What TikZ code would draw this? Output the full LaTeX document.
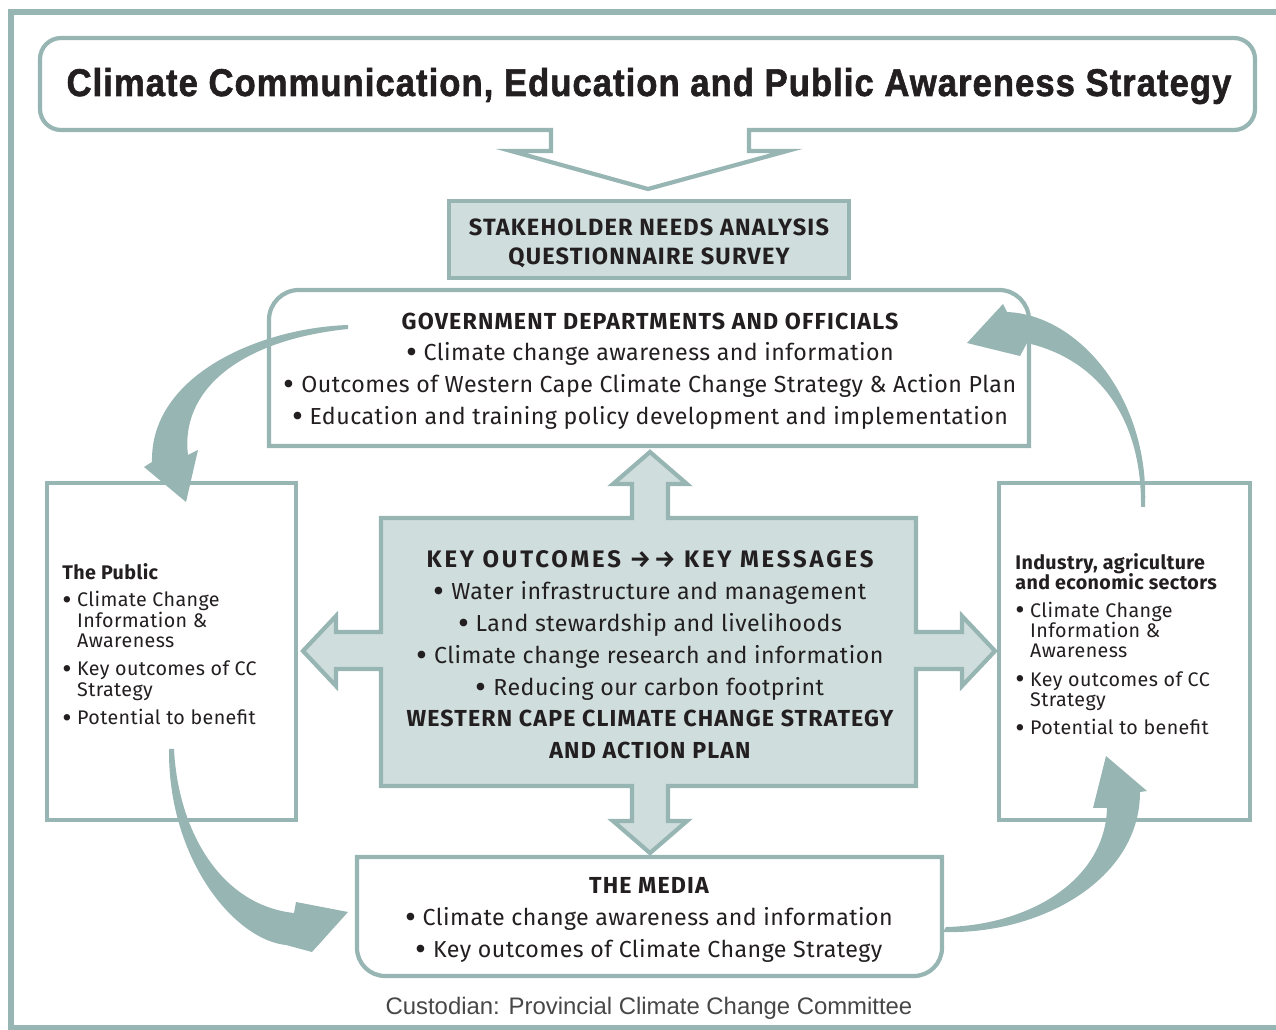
\documentclass[tikz,border=0pt]{standalone}
\usepackage{fontspec}
\setmainfont[LetterSpace=2]{Fira Sans}
\newfontfamily\titlefont[LetterSpace=3, FakeBold=1.6]{Liberation Sans Bold}
\newfontfamily\custfont{Liberation Sans}
\newfontfamily\capsfont[LetterSpace=5]{Fira Sans}
\newfontfamily\spacedfont[LetterSpace=12]{Fira Sans}
\usepackage{xcolor}
\usepackage{tikz}
\definecolor{boxline}{HTML}{97B6B3}
\definecolor{boxfill}{HTML}{CFDEDD}
\definecolor{ink}{HTML}{231F20}
\newcommand\blt{\raisebox{-0.25ex}{\scalebox{1.45}{•}}}

\begin{document}
\begin{tikzpicture}[x=0.02cm, y=-0.02cm,
  tealline/.style={draw=boxline, line width=2.4pt},
  plainbox/.style={tealline, fill=white, inner sep=0pt},
  shadebox/.style={tealline, fill=boxfill, inner sep=0pt},
  body/.style={text=ink, font=\fontsize{13.2}{18.1}\selectfont, align=center, inner sep=0pt},
  side/.style={text=ink, font=\fontsize{11.2}{11.6}\selectfont, align=left, anchor=north west, inner sep=0pt},
  bigarrow/.style={fill=boxline}]
\useasboundingbox (0,0) rectangle (1276,1030);
\draw[tealline, line width=3pt] (1290,12) -- (11,12) -- (11,1028) -- (1290,1028);

\draw[tealline, fill=white] (400,130) -- (551,130) -- (551,151) -- (511,151) -- (648,189) -- (787,151) -- (749,151) -- (749,130) -- (900,130) [rounded corners=12pt] -- (1255,130) -- (1255,38) -- (40,38) -- (40,130) -- (200,130) [sharp corners] -- cycle;
\node[text=ink, anchor=base] (title) at (649,96) {\resizebox{23.3cm}{0.56cm}{\titlefont Climate Communication, Education and Public Awareness Strategy}};

\node[shadebox, minimum width=8cm, minimum height=1.54cm] (survey) at (649,239.5) {};
\node[body, font=\capsfont\bfseries\fontsize{13.4}{16.4}\selectfont] (surveytext) at (649,243) {STAKEHOLDER NEEDS ANALYSIS\\QUESTIONNAIRE SURVEY};

\draw[tealline, fill=white] (650,446) -- (269,446) -- (269,380) [rounded corners=17pt] -- (269,290) -- (1029,290) -- (1029,380) [sharp corners] -- (1029,446) -- cycle;
\node[body] (gov) at (650,371) {{\capsfont\bfseries GOVERNMENT DEPARTMENTS AND OFFICIALS}\\
  \blt\ Climate change awareness and information\\
  \blt\ Outcomes of Western Cape Climate Change Strategy \& Action Plan\\
  \blt\ Education and training policy development and implementation};

\node[plainbox, minimum width=4.98cm, minimum height=6.74cm] (public) at (171.5,651.5) {};
\node[side] (publictext) at (62,563) {\textbf{The Public}\\[4pt]
  \blt\ Climate Change\\ \phantom{\blt\ }Information \&\\ \phantom{\blt\ }Awareness\\[4.5pt]
  \blt\ Key outcomes of CC\\ \phantom{\blt\ }Strategy\\[4.5pt]
  \blt\ Potential to benefit};

\node[plainbox, minimum width=5.02cm, minimum height=6.74cm] (industry) at (1124.5,651.5) {};
\node[side] (industrytext) at (1015,553) {\textbf{Industry, agriculture}\\ \textbf{and economic sectors}\\[4pt]
  \blt\ Climate Change\\ \phantom{\blt\ }Information \&\\ \phantom{\blt\ }Awareness\\[4.5pt]
  \blt\ Key outcomes of CC\\ \phantom{\blt\ }Strategy\\[4.5pt]
  \blt\ Potential to benefit};

\draw[shadebox] (381,518) -- (632,518) -- (632,484) -- (613,484) -- (650,452) -- (687,484) -- (668,484) -- (668,518) -- (916,518) -- (916,632) -- (962,632) -- (962,616) -- (995,651) -- (962,686) -- (962,669) -- (916,669) -- (916,786) -- (668,786) -- (668,821) -- (687,821) -- (650,853) -- (613,821) -- (632,821) -- (632,786) -- (381,786) -- (381,669) -- (336,669) -- (336,686) -- (303,651) -- (336,616) -- (336,632) -- (381,632) -- cycle;
\node[body] (messages) at (650,655) {{\spacedfont\bfseries\fontsize{13.6}{18.1}\selectfont KEY OUTCOMES →→ KEY MESSAGES}\\
  \blt\ Water infrastructure and management\\
  \blt\ Land stewardship and livelihoods\\
  \blt\ Climate change research and information\\
  \blt\ Reducing our carbon footprint\\
  {\capsfont\bfseries WESTERN CAPE CLIMATE CHANGE STRATEGY}\\
  {\capsfont\bfseries AND ACTION PLAN}};

\draw[tealline, fill=white] (650,857) -- (942,857) -- (942,900) [rounded corners=16pt] -- (942,976) -- (357,976) -- (357,900) [sharp corners] -- (357,857) -- cycle;
\node[body] (media) at (649,920) {{\capsfont\bfseries THE MEDIA}\\
  \blt\ Climate change awareness and information\\
  \blt\ Key outcomes of Climate Change Strategy};

\node[text=black!72, anchor=base, inner sep=0pt, font=\custfont\fontsize{13.6}{15}\selectfont] (custodian) at (649,1014) {Custodian: Provincial Climate Change Committee};

\fill[bigarrow] (348,325) .. controls (260,328) and (150,375) .. (152,462) -- (144,467) -- (186,502) -- (198,450) -- (188,455) .. controls (180,390) and (240,340) .. (348,329) -- cycle;
\fill[bigarrow] (169,749) .. controls (168,860) and (235,940) .. (286,945) -- (312,952) -- (348,912) -- (296,902) -- (294,913) .. controls (220,905) and (178,830) .. (174,749) -- cycle;
\fill[bigarrow] (943,932) .. controls (1040,935) and (1140,880) .. (1140,792) -- (1147,791) -- (1106,756) -- (1093,808) -- (1107,808) .. controls (1105,880) and (1030,925) .. (946,927) -- cycle;
\fill[bigarrow] (1145,507) .. controls (1150,400) and (1080,315) .. (1007,312) -- (1003,304) -- (967,343) -- (1020,356) -- (1027,343) .. controls (1100,360) and (1142,420) .. (1141,507) -- cycle;
\end{tikzpicture}
\end{document}
